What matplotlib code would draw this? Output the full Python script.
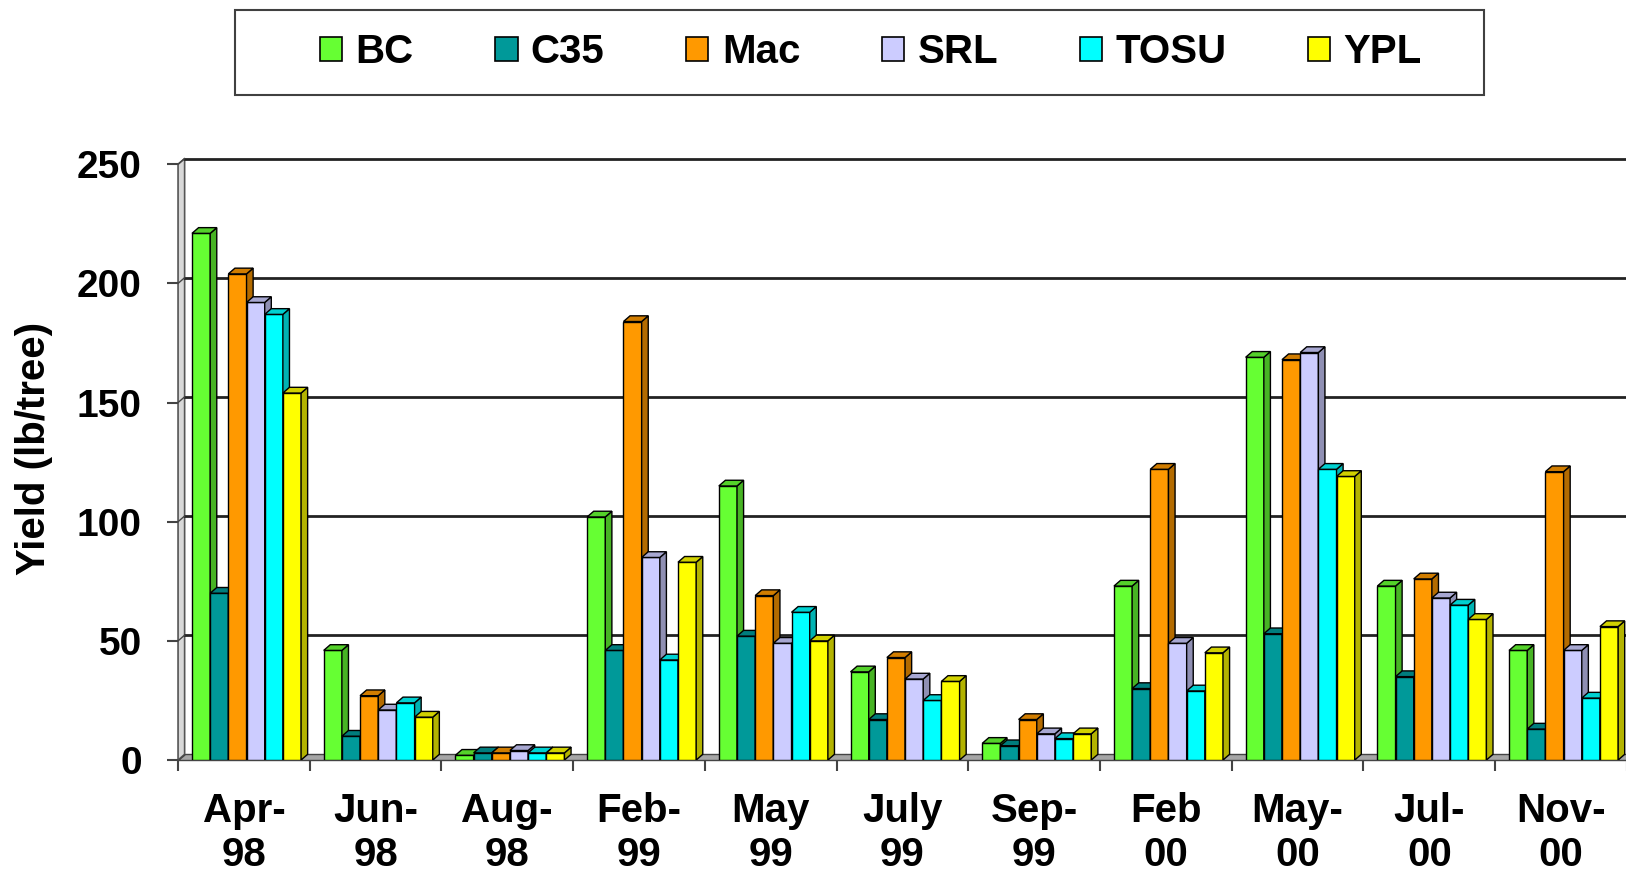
import numpy as np
import matplotlib
matplotlib.use("Agg")
import matplotlib.pyplot as plt
from matplotlib.patches import Polygon, Rectangle
from matplotlib.colors import to_rgb

plt.rcParams['font.family'] = ['Liberation Sans', 'DejaVu Sans']
plt.rcParams['font.weight'] = 'bold'

# data (lb/tree)
months = ["Apr-\n98", "Jun-\n98", "Aug-\n98", "Feb-\n99", "May\n99", "July\n99",
          "Sep-\n99", "Feb\n00", "May-\n00", "Jul-\n00", "Nov-\n00"]
series = ["BC", "C35", "Mac", "SRL", "TOSU", "YPL"]
bc = [221, 46, 2, 102, 115, 37, 7, 73, 169, 73, 46]
c35 = [70, 10, 3, 46, 52, 17, 6, 30, 53, 35, 13]
mac = [204, 27, 3, 184, 69, 43, 17, 122, 168, 76, 121]
srl = [192, 21, 4, 85, 49, 34, 11, 49, 171, 68, 46]
tosu = [187, 24, 3, 42, 62, 25, 9, 29, 122, 65, 26]
ypl = [154, 18, 3, 83, 50, 33, 11, 45, 119, 59, 56]
colors = ["#66FF33", "#009999", "#FF9900", "#CCCCFF", "#00FFFF", "#FFFF00"]
yticks = [0, 50, 100, 150, 200, 250]

values = [bc, c35, mac, srl, tosu, ypl]

fig = plt.figure(figsize=(16.26, 8.72), dpi=100)
ax = fig.add_axes([0.1095, 0.1284, 0.891, 0.6898])

x = np.arange(len(months))
w = 0.138        # bar width (category units)
dx, dy = 0.05, 2.4   # fake 3d depth
x0 = -0.5
xr = len(months) - 0.5
ymax = 250

ax.set_xlim(x0, xr)
ax.set_ylim(0, ymax + dy)
for s in ax.spines.values():
    s.set_visible(False)

# left wall and floor
ax.add_patch(Polygon([(x0, 0), (x0 + dx, dy), (x0 + dx, ymax + dy), (x0, ymax)],
                     closed=True, fc='#d8d8d8', ec='#555555', lw=1.2, zorder=1, clip_on=False))
ax.add_patch(Polygon([(x0, 0), (xr + 1, 0), (xr + 1, dy), (x0 + dx, dy)],
                     closed=True, fc='#a6a6a6', ec='#444444', lw=1.0, zorder=1, clip_on=False))
for v in yticks[1:]:
    ax.plot([x0 + dx, xr + 1], [v + dy, v + dy], color='#222222', lw=2, zorder=1, clip_on=False)
    ax.plot([x0, x0 + dx], [v, v + dy], color='#444444', lw=1, zorder=1, clip_on=False)

for k, (vals, c) in enumerate(zip(values, colors)):
    rgb = np.array(to_rgb(c))
    bars = ax.bar(x + (k - 2.5) * w + 0.02, vals, w, color=c, ec='black', lw=1.0, zorder=3 + k)
    for b in bars:
        xl = b.get_x()
        xe = xl + b.get_width()
        h = b.get_height()
        ax.add_patch(Polygon([(xe, 0), (xe + dx, dy), (xe + dx, h + dy), (xe, h)], closed=True,
                             fc=rgb * 0.7, ec='black', lw=1.0, zorder=3 + k))
        ax.add_patch(Polygon([(xl, h), (xe, h), (xe + dx, h + dy), (xl + dx, h + dy)], closed=True,
                             fc=rgb * 0.82, ec='black', lw=1.0, zorder=3 + k))

ax.set_xticks(x)
ax.set_xticklabels(months, fontsize=29, fontweight='bold', linespacing=1.2)
ax.tick_params(axis='x', which='major', length=0, pad=23)
ax.set_xticks(np.arange(x0, xr + 0.1, 1), minor=True)
ax.tick_params(axis='x', which='minor', length=8, width=1.5, color='#444444')
ax.set_yticks(yticks)
ax.set_yticklabels([str(v) for v in yticks], fontsize=28, fontweight='bold')
ax.tick_params(axis='y', length=8, width=1.5, color='#444444', pad=18)

fig.text(0.0209, 0.486, "Yield (lb/tree)", rotation=90, ha='center', va='center',
         fontsize=29, fontweight='bold')

handles = [Rectangle((0, 0), 1, 1, fc=c, ec='black', lw=1.2) for c in colors]
fig.legend(handles, series, loc='center', bbox_to_anchor=(0.5356, 0.9405), ncol=6,
           frameon=False, prop={'size': 29, 'weight': 'bold'}, handlelength=0.55,
           handleheight=0.55, handletextpad=0.33, columnspacing=2.03, borderpad=0)
fig.add_artist(Rectangle((235 / 1626, 1 - 95.4 / 872), (1484 - 235) / 1626, 85 / 872,
                         transform=fig.transFigure, fill=False, ec='#404040', lw=1.5))

fig.savefig('out.png', dpi=100)
